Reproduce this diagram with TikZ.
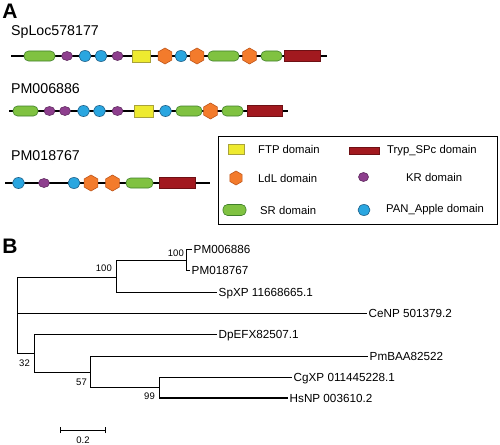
\documentclass[tikz,border=0pt]{standalone}
\usepackage{fontspec}
\setmainfont{Liberation Sans}
\usetikzlibrary{shapes.geometric}
\definecolor{srfill}{HTML}{80C241}\definecolor{srdraw}{HTML}{3F7F2A}
\definecolor{krfill}{HTML}{8E3F8E}\definecolor{krdraw}{HTML}{5A245A}
\definecolor{panfill}{HTML}{2AA6E0}\definecolor{pandraw}{HTML}{1D5E86}
\definecolor{ftpfill}{HTML}{EEEA2F}\definecolor{ftpdraw}{HTML}{A8A23A}
\definecolor{ldlfill}{HTML}{F37B2C}\definecolor{ldldraw}{HTML}{C0561A}
\definecolor{trypfill}{HTML}{A2191F}\definecolor{trypdraw}{HTML}{6E1014}
\tikzset{
  dom/.style={inner sep=0pt, line width=0.6pt},
  srd/.style={dom, rectangle, rounded corners=4.5pt, fill=srfill, draw=srdraw, minimum height=10pt, minimum width=#1},
  krd/.style={dom, ellipse, fill=krfill, draw=krdraw, minimum width=11pt, minimum height=9pt},
  pand/.style={dom, ellipse, fill=panfill, draw=pandraw, minimum width=12pt, minimum height=11pt},
  ftpd/.style={dom, rectangle, fill=ftpfill, draw=ftpdraw, minimum width=#1, minimum height=12pt},
  ldld/.style={dom, regular polygon, regular polygon sides=6, shape border rotate=30, fill=ldlfill, draw=ldldraw, minimum size=16pt},
  trypd/.style={dom, rectangle, fill=trypfill, draw=trypdraw, minimum width=#1, minimum height=11pt},
  backbone/.style={line width=1.2pt, black},
  rowlabel/.style={anchor=base west, inner sep=0pt, font=\fontsize{14.2}{16}\selectfont},
  panel/.style={anchor=center, inner sep=0pt, font=\fontsize{21}{24}\selectfont\bfseries},
  legtext/.style={anchor=west, inner sep=0pt, font=\fontsize{11.3}{13}\selectfont, text height=8.1pt, text depth=0pt},
  leaf/.style={anchor=west, inner sep=0pt, xshift=1.5pt, font=\fontsize{11.7}{13}\selectfont, text height=8.4pt, text depth=0pt},
  boot/.style={anchor=east, inner sep=0pt, font=\fontsize{9.5}{11}\selectfont, text height=6.8pt, text depth=0pt},
  branch/.style={line width=0.8pt, black},
}
\begin{document}
\begin{tikzpicture}[x=1pt,y=-1pt]
\useasboundingbox (0,0) rectangle (500,444);
% ---------------- Panel A ----------------
\node[panel] (A) at (10,11) {A};
\node[rowlabel] (l1) at (11,36) {SpLoc578177};
\node[rowlabel] (l2) at (11,93) {PM006886};
\node[rowlabel] (l3) at (11,160) {PM018767};

% row 1
\coordinate (r1s) at (11,56); \coordinate (r1e) at (327,56);
\draw[backbone] (r1s) -- (r1e);
\node[srd=31pt] (a1) at (39.5,56) {};
\node[krd] (a2) at (67,56) {};
\node[pand] (a3) at (85,56) {};
\node[pand] (a4) at (101,56) {};
\node[krd] (a5) at (117.5,56) {};
\node[ftpd=18pt] (a6) at (141,56) {};
\node[ldld] (a7) at (165,56) {};
\node[pand] (a8) at (181,56) {};
\node[ldld] (a9) at (197,56) {};
\node[srd=31pt] (a10) at (223.5,56) {};
\node[ldld] (a11) at (249.5,56) {};
\node[srd=21pt] (a12) at (271.5,56) {};
\node[trypd=36pt] (a13) at (302,56) {};

% row 2
\coordinate (r2s) at (9,111); \coordinate (r2e) at (288,111);
\draw[backbone] (r2s) -- (r2e);
\node[srd=25pt] (b1) at (25.5,111) {};
\node[krd] (b2) at (49.5,111) {};
\node[krd] (b3) at (65,111) {};
\node[pand] (b4) at (83.5,111) {};
\node[pand] (b5) at (99.5,111) {};
\node[krd] (b6) at (117.5,111) {};
\node[ftpd=19pt] (b7) at (143.5,111) {};
\node[pand] (b8) at (165.5,111) {};
\node[srd=26pt] (b9) at (189,111) {};
\node[ldld] (b10) at (210.5,111) {};
\node[srd=21pt] (b11) at (232.5,111) {};
\node[trypd=35pt] (b12) at (264.5,111) {};

% row 3
\coordinate (r3s) at (5,183); \coordinate (r3e) at (210,183);
\draw[backbone] (r3s) -- (r3e);
\node[pand] (c1) at (18.5,183) {};
\node[krd] (c2) at (44,183) {};
\node[pand] (c3) at (74,183) {};
\node[ldld] (c4) at (91,183) {};
\node[ldld] (c5) at (112.5,183) {};
\node[srd=27pt] (c6) at (139.5,183) {};
\node[trypd=36pt] (c7) at (177,183) {};

% legend
\node[draw, line width=0.8pt, inner sep=0pt, minimum width=279pt, minimum height=88pt] (leg) at (357.5,180) {};
\node[ftpd=16pt, minimum height=10pt] (k1) at (236,149) {};
\node[legtext] (t1) at (258,149) {FTP domain};
\node[ldld, minimum size=14pt] (k2) at (236,178) {};
\node[legtext] (t2) at (258,178) {LdL domain};
\node[srd=23pt, minimum height=11pt] (k3) at (234.5,210) {};
\node[legtext] (t3) at (260,210) {SR domain};
\node[trypd=30pt, minimum height=7pt] (k4) at (364,150.5) {};
\node[legtext] (t4) at (387,149) {Tryp\_SPc domain};
\node[krd, minimum width=10pt] (k5) at (363.5,177) {};
\node[legtext] (t5) at (406,177) {KR domain};
\node[pand] (k6) at (364,210) {};
\node[legtext] (t6) at (386,208) {PAN\_Apple domain};

% ---------------- Panel B ----------------
\node[panel] (B) at (10,246) {B};
% internal nodes
\coordinate (root) at (17,313);
\coordinate (nU) at (116,277);
\coordinate (nUa) at (116,260);
\coordinate (nUb) at (116,292);
\coordinate (nP) at (186,260);
\coordinate (nPa) at (186,249);
\coordinate (nPb) at (186,270);
\coordinate (nL) at (34,353);
\coordinate (nLa) at (34,334);
\coordinate (nLb) at (34,372);
\coordinate (nM) at (90,372);
\coordinate (nMa) at (90,356);
\coordinate (nMb) at (90,387);
\coordinate (nH) at (159,387);
\coordinate (nHa) at (159,377);
\coordinate (nHb) at (159,398);
% tips
\coordinate (tp1) at (192,249);
\coordinate (tp2) at (190,270);
\coordinate (tsp) at (217,292);
\coordinate (tce) at (367,313);
\coordinate (tdp) at (217,334);
\coordinate (tpm) at (368,356);
\coordinate (tcg) at (292,377);
\coordinate (ths) at (288,398);
% leaf labels
\node[leaf] (L1) at (tp1) {PM006886};
\node[leaf] (L2) at (tp2) {PM018767};
\node[leaf] (L3) at (tsp) {SpXP 11668665.1};
\node[leaf] (L4) at (tce) {CeNP 501379.2};
\node[leaf] (L5) at (tdp) {DpEFX82507.1};
\node[leaf] (L6) at (tpm) {PmBAA82522};
\node[leaf] (L7) at (tcg) {CgXP 011445228.1};
\node[leaf] (L8) at (ths) {HsNP 003610.2};
% branches
\draw[branch] (17,277) -- (17,353);
\draw[branch] (17,277) -- (nU);
\draw[branch] (nUa) -- (nUb);
\draw[branch] (nUa) -- (nP);
\draw[branch] (nPa) -- (nPb);
\draw[branch] (nPa) -- (tp1);
\draw[branch] (nPb) -- (tp2);
\draw[branch] (nUb) -- (tsp);
\draw[branch] (root) -- (tce);
\draw[branch] (17,353) -- (nL);
\draw[branch] (nLa) -- (nLb);
\draw[branch] (nLa) -- (tdp);
\draw[branch] (nLb) -- (nM);
\draw[branch] (nMa) -- (nMb);
\draw[branch] (nMa) -- (tpm);
\draw[branch] (nMb) -- (nH);
\draw[branch] (nHa) -- (nHb);
\draw[branch] (nHa) -- (tcg);
\draw[branch, line width=1.8pt] (nHb) -- (ths);
% bootstrap values
\node[boot] (s1) at (184,253) {100};
\node[boot] (s2) at (112,268) {100};
\node[boot] (s3) at (30,363) {32};
\node[boot] (s4) at (87,382) {57};
\node[boot] (s5) at (155,396) {99};
% scale bar
\coordinate (sb1) at (60,430); \coordinate (sb2) at (105,430);
\draw[branch] (sb1) -- (sb2);
\draw[branch] ([yshift=-3pt]sb1) -- ([yshift=3pt]sb1);
\draw[branch] ([yshift=-3pt]sb2) -- ([yshift=3pt]sb2);
\node[anchor=center, inner sep=0pt, font=\fontsize{9.5}{11}\selectfont] (sbl) at (83,440) {0.2};
\end{tikzpicture}
\end{document}
